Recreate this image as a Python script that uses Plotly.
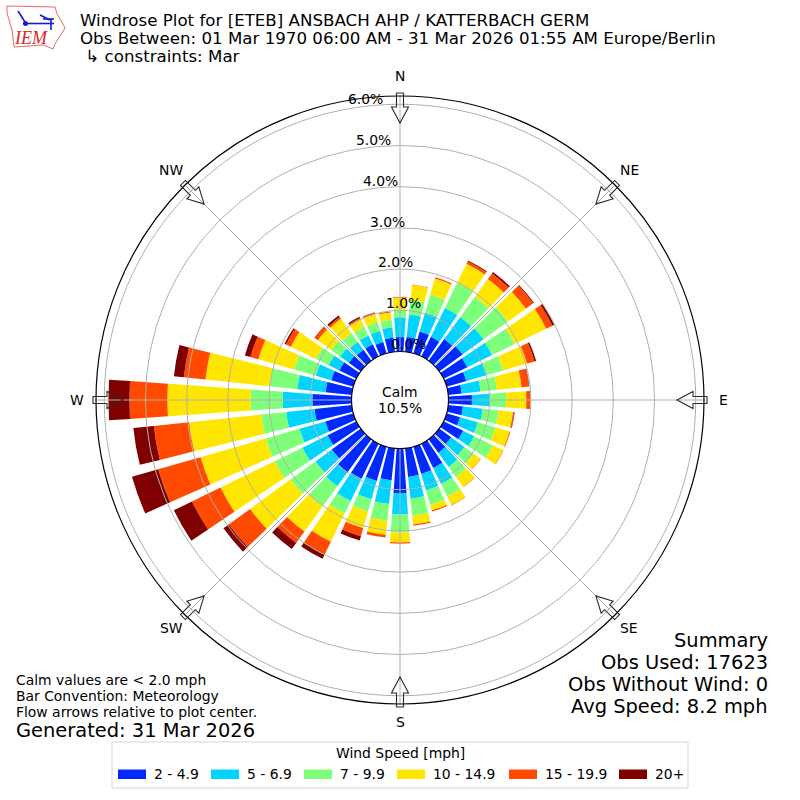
import math
import plotly.graph_objects as go

# wind directions, degrees
directions = list(range(0, 360, 10))

# percent of obs per speed bin
speed_2_5 = [.35, .36, .55, .53, .65, .70, .64, .50, .33, .57, .36, .34, .53, .36, .41, .66, .69, .70,
             1.09, .78, .87, .95, .99, .87, .78, .71, .91, .95, .64, .56, .46, .36, .33, .33, .29, .34]
speed_5_7 = [.48, .55, .48, .78, .66, .63, .67, .50, .46, .43, .48, .45, .30, .40, .42, .43, .42, .53,
             .51, .58, .46, .60, .42, .49, .68, .65, .69, .72, .69, .39, .29, .26, .24, .24, .28, .26]
speed_7_10 = [.19, .36, .45, .68, .61, .73, .61, .43, .40, .40, .39, .44, .50, .28, .30, .34, .36, .41,
              .44, .41, .31, .34, .60, .75, .75, .85, .61, .78, .68, .55, .34, .27, .26, .23, .22, .18]
speed_10_15 = [.29, .36, .41, .51, .53, .54, .85, .60, .60, .49, .35, .36, .28, .20, .30, .23, .14, .22,
               .24, .34, .42, .76, .76, 1.21, 1.46, 1.65, 1.76, 2.02, 1.56, .90, .68, .40, .43, .20, .21, .18]
speed_15_20 = [.02, .01, .03, .07, .17, .22, .17, .19, .18, .10, .03, .02, .01, .01, .01, .01, .03, .03,
               .03, .07, .20, .35, .34, .64, .77, 1.07, .86, .92, .53, .20, .13, .09, .05, .04, .03, .02]
speed_20_up = [0, 0, 0, .02, .04, .02, .05, .04, .01, 0, .01, 0, 0, 0, 0, 0, 0, 0,
               0, 0, .11, .11, .18, .16, .49, .66, .50, .51, .24, .14, .04, .01, .05, .03, .01, 0]

speed_labels = ["2 - 4.9", "5 - 6.9", "7 - 9.9", "10 - 14.9", "15 - 19.9", "20+"]
speed_colors = ["#0029ff", "#00d4ff", "#7dff7a", "#ffe600", "#ff4a00", "#7f0000"]
speed_series = [speed_2_5, speed_5_7, speed_7_10, speed_10_15, speed_15_20, speed_20_up]

radial_ticks = [0, 1, 2, 3, 4, 5, 6]
radial_labels = ["0.0%", "1.0%", "2.0%", "3.0%", "4.0%", "5.0%", "6.0%"]
radial_label_pos = [(408, 344), (403, 303), (395, 262), (387, 222), (380, 181), (373, 140), (365, 99)]

compass = ["N", "NE", "E", "SE", "S", "SW", "W", "NW"]
compass_pos = [(400, 76), (629, 170), (723, 400), (629, 628), (400, 722), (171, 628), (77, 400), (171, 170)]

FONT = "DejaVu Sans"
SIZE = 800
CX, CY = 400, 400


def px(x):
    return x / SIZE


def py(y):
    return 1 - y / SIZE


def note(text, x, y, size, anchor="center", color="black", family=FONT):
    # annotations carry a little padding, take it back so the text sits on x
    if anchor == "left":
        x -= 2
    elif anchor == "right":
        x += 2
    return dict(text=text, x=px(x), y=py(y), xref="paper", yref="paper", showarrow=False,
                xanchor=anchor, yanchor="middle", font=dict(size=size, color=color, family=family))


def poly(points, line, width=1, fill="rgba(0,0,0,0)"):
    path = "M " + " L ".join(f"{px(x):.5f},{py(y):.5f}" for x, y in points) + " Z"
    return dict(type="path", path=path, xref="paper", yref="paper", layer="above",
                line=dict(color=line, width=width), fillcolor=fill)


# outline arrow pointing at the center
def flow_arrow(angle):
    a = math.radians(angle)
    ux, uy = math.sin(a), -math.cos(a)
    vx, vy = -uy, ux
    outline = [(307, 3.5), (293, 3.5), (293, 8.5), (277, 0), (293, -8.5), (293, -3.5), (307, -3.5)]
    pts = [(CX + r * ux + s * vx, CY + r * uy + s * vy) for r, s in outline]
    return poly(pts, "#2a2a2a", 1.1)


fig = go.Figure()

for label, color, values in zip(speed_labels, speed_colors, speed_series):
    fig.add_trace(go.Barpolar(r=values, theta=directions, width=8, name=label,
                              marker=dict(color=color, line=dict(width=0)), subplot="polar"))

# empty trace so the grid subplot gets drawn on top of the bars
fig.add_trace(go.Scatterpolar(r=[None], theta=[None], subplot="polar2", showlegend=False))

shared = dict(domain=dict(x=[px(96), px(704)], y=[py(704), py(96)]), hole=48.5 / 304)
fig.update_layout(
    polar=dict(
        **shared, bgcolor="white",
        radialaxis=dict(range=[0, 6.2], visible=False),
        angularaxis=dict(direction="clockwise", rotation=90, visible=False),
    ),
    polar2=dict(
        **shared, bgcolor="rgba(0,0,0,0)",
        radialaxis=dict(range=[0, 6.2], tickvals=radial_ticks, showticklabels=False, ticks="",
                        showline=False, gridcolor="#b0b0b0", gridwidth=1.1),
        angularaxis=dict(direction="clockwise", rotation=90, tickvals=list(range(0, 360, 45)),
                         showticklabels=False, ticks="", showline=True, linecolor="black",
                         linewidth=1.2, gridcolor="#b0b0b0", gridwidth=1.1),
    ),
)

annotations = [
    note("Windrose Plot for [ETEB] ANSBACH AHP / KATTERBACH GERM", 80, 21, 16.67, "left"),
    note("Obs Between: 01 Mar 1970 06:00 AM - 31 Mar 2026 01:55 AM Europe/Berlin", 80, 39, 16.67, "left"),
    note(" ↳ constraints: Mar", 80, 56, 16.67, "left"),
    note("Calm", 400, 392, 13.9),
    note("10.5%", 400, 408, 13.9),
    note("Summary", 768, 640, 19.44, "right"),
    note("Obs Used: 17623", 768, 662, 19.44, "right"),
    note("Obs Without Wind: 0", 768, 684, 19.44, "right"),
    note("Avg Speed: 8.2 mph", 768, 706, 19.44, "right"),
    note("Calm values are < 2.0 mph", 16, 680, 13.9, "left"),
    note("Bar Convention: Meteorology", 16, 696, 13.9, "left"),
    note("Flow arrows relative to plot center.", 16, 712, 13.9, "left"),
    note("Generated: 31 Mar 2026", 16, 730, 19.44, "left"),
    note("Wind Speed [mph]", 400, 753, 13.9),
    note("<i>IEM</i>", 31, 38, 18, color="#d62728", family="Liberation Serif"),
]
for text, (x, y) in zip(radial_labels, radial_label_pos):
    annotations.append(note(text, x, y, 13.9))
for text, (x, y) in zip(compass, compass_pos):
    annotations.append(note(text, x, y, 13.9))

shapes = [flow_arrow(a) for a in range(0, 360, 45)]

# legend drawn by hand to get the wide swatches
shapes.append(dict(type="rect", x0=px(112), x1=px(688), y0=py(788), y1=py(742), xref="paper", yref="paper",
                   layer="above", line=dict(color="#d5d5d5", width=1), fillcolor="rgba(255,255,255,0.8)"))
swatch_x = [118, 211, 304, 397, 509, 619]
for label, color, x in zip(speed_labels, speed_colors, swatch_x):
    shapes.append(dict(type="rect", x0=px(x), x1=px(x + 28), y0=py(779), y1=py(769.5), xref="paper", yref="paper",
                       layer="above", line=dict(width=0), fillcolor=color))
    annotations.append(note(label, x + 36, 774, 13.9, "left"))

# IEM logo, state outline and little station plot
iowa = [(7, 6), (55, 7), (57, 14), (62, 22), (65, 28), (60, 36), (55, 44), (53, 49), (44, 45), (14, 47), (12, 30), (7, 13)]
shapes.append(poly(iowa, "#e8676b", 1))
logo_lines = [[(25, 23.5), (54, 23.5)], [(18, 11), (25, 22)], [(40, 15), (50, 20)], [(51, 19), (51, 30)], [(43, 19), (54, 19)]]
for seg in logo_lines:
    shapes.append(dict(type="path", path="M " + " L ".join(f"{px(x):.5f},{py(y):.5f}" for x, y in seg),
                       xref="paper", yref="paper", layer="above", line=dict(color="#1a1ad6", width=1.6)))
shapes.append(dict(type="circle", x0=px(23), x1=px(28), y0=py(26), y1=py(21), xref="paper", yref="paper",
                   layer="above", line=dict(width=0), fillcolor="#1a1ad6"))

fig.update_layout(width=SIZE, height=SIZE, margin=dict(l=0, r=0, t=0, b=0), paper_bgcolor="white",
                  showlegend=False, annotations=annotations, shapes=shapes)

# the page's default body margin would push the chart off by 8px
fig.write_html("out.html", config=dict(displayModeBar=False), post_script="document.body.style.margin='0';")
